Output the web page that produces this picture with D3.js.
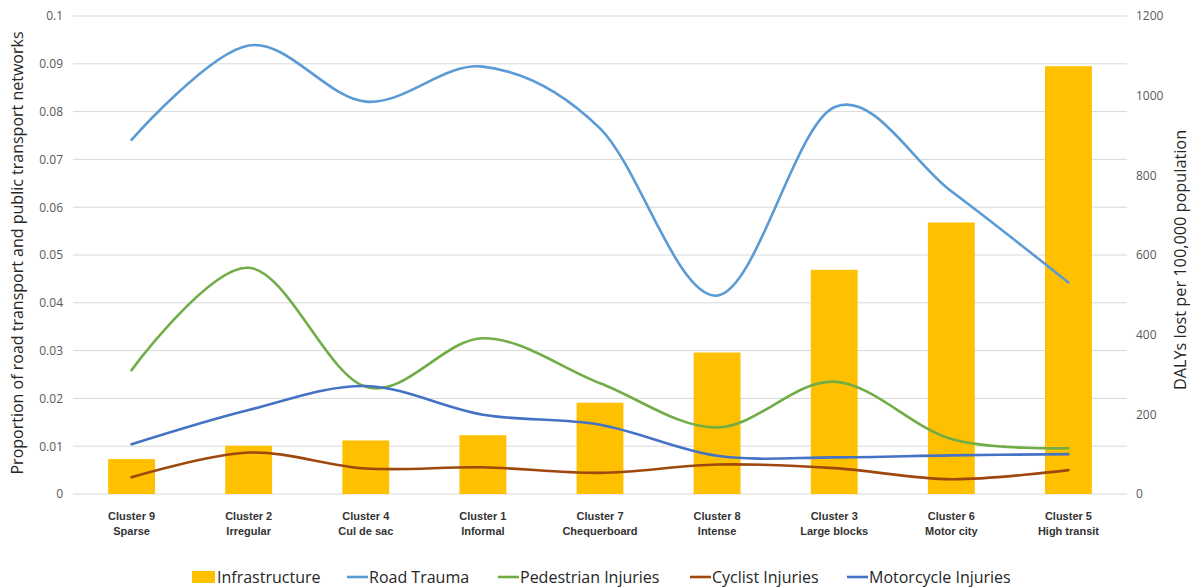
<!DOCTYPE html>
<html>
<head>
<meta charset="utf-8">
<script src="https://cdn.jsdelivr.net/npm/d3@7"></script>
<style>
  html, body { margin: 0; padding: 0; background: #fff; }
  svg { display: block; }
</style>
</head>
<body>
<svg id="chart" width="1193" height="588"></svg>
<script>
// Urban design clusters, ordered as they appear along the x axis
const clusters = ["Cluster 9", "Cluster 2", "Cluster 4", "Cluster 1", "Cluster 7", "Cluster 8", "Cluster 3", "Cluster 6", "Cluster 5"];
const clusterNames = ["Sparse", "Irregular", "Cul de sac", "Informal", "Chequerboard", "Intense", "Large blocks", "Motor city", "High transit"];

// Proportion of road transport and public transport networks (left axis)
const infrastructure = [0.0073, 0.0101, 0.0112, 0.0123, 0.0191, 0.0296, 0.0469, 0.0568, 0.0895];

// DALYs lost per 100,000 population (right axis)
const roadTrauma = [889, 1126, 985, 1073, 918, 498, 971, 760, 531];
const pedestrianInjuries = [311, 568, 269, 391, 278, 167, 282, 138, 115];
const cyclistInjuries = [42, 104, 64, 67, 53, 74, 65, 37, 60];
const motorcycleInjuries = [125, 211, 271, 199, 174, 96, 92, 97, 100];

const leftTicks = [0, 0.01, 0.02, 0.03, 0.04, 0.05, 0.06, 0.07, 0.08, 0.09, 0.1];
const rightTicks = [0, 200, 400, 600, 800, 1000, 1200];

const lineSeries = [
  { name: "Road Trauma", values: roadTrauma, color: "#5b9bd5" },
  { name: "Pedestrian Injuries", values: pedestrianInjuries, color: "#70ad47" },
  { name: "Cyclist Injuries", values: cyclistInjuries, color: "#9e480e" },
  { name: "Motorcycle Injuries", values: motorcycleInjuries, color: "#4472c4" }
];
const barColor = "#ffc000";

const svg = d3.select("#chart");
const plot = { left: 73, right: 1127, top: 16, bottom: 494 };

const x = d3.scaleBand().domain(clusters).range([plot.left, plot.right]).padding(0);
const yLeft = d3.scaleLinear().domain([0, 0.1]).range([plot.bottom, plot.top]);
const yRight = d3.scaleLinear().domain([0, 1200]).range([plot.bottom, plot.top]);

const tickFont = "'Open Sans', 'Liberation Sans', sans-serif";

// Horizontal gridlines on the left-axis ticks
svg.append("g")
  .selectAll("line")
  .data(leftTicks)
  .join("line")
  .attr("x1", plot.left).attr("x2", plot.right)
  .attr("y1", d => yLeft(d)).attr("y2", d => yLeft(d))
  .attr("stroke", "#d9d9d9").attr("stroke-width", 1);

// Left axis
const gLeft = svg.append("g")
  .attr("transform", `translate(${plot.left},0)`)
  .call(d3.axisLeft(yLeft).tickValues(leftTicks).tickSize(0).tickPadding(10).tickFormat(d => String(+d.toFixed(2))));
gLeft.select(".domain").remove();
gLeft.selectAll("text").attr("font-family", tickFont).attr("font-size", 12).attr("fill", "#595959");

// Right axis
const gRight = svg.append("g")
  .attr("transform", `translate(${plot.right},0)`)
  .call(d3.axisRight(yRight).tickValues(rightTicks).tickSize(0).tickPadding(9).tickFormat(d => String(d)));
gRight.select(".domain").remove();
gRight.selectAll("text").attr("font-family", tickFont).attr("font-size", 12).attr("fill", "#595959");

// Infrastructure bars
const barW = x.bandwidth() * 0.4;
svg.append("g")
  .selectAll("rect")
  .data(infrastructure)
  .join("rect")
  .attr("x", (d, i) => x(clusters[i]) + (x.bandwidth() - barW) / 2)
  .attr("width", barW)
  .attr("y", d => yLeft(d))
  .attr("height", d => yLeft(0) - yLeft(d))
  .attr("fill", barColor);

// Smoothed injury / trauma lines
const line = d3.line()
  .x((d, i) => x(clusters[i]) + x.bandwidth() / 2)
  .y(d => yRight(d))
  .curve(d3.curveCardinal.tension(0));

svg.append("g")
  .selectAll("path")
  .data(lineSeries)
  .join("path")
  .attr("d", s => line(s.values))
  .attr("fill", "none")
  .attr("stroke", s => s.color)
  .attr("stroke-width", 2.6)
  .attr("stroke-linecap", "round");

// Category labels (two lines)
const xLabels = svg.append("g")
  .selectAll("text")
  .data(clusters)
  .join("text")
  .attr("x", d => x(d) + x.bandwidth() / 2)
  .attr("text-anchor", "middle")
  .attr("font-family", "'Liberation Sans', Arial, sans-serif")
  .attr("font-weight", "bold")
  .attr("font-size", 11)
  .attr("fill", "#333");
xLabels.append("tspan").attr("x", d => x(d) + x.bandwidth() / 2).attr("y", 520).text(d => d);
xLabels.append("tspan").attr("x", d => x(d) + x.bandwidth() / 2).attr("y", 535).text((d, i) => clusterNames[i]);

// Axis titles
svg.append("text")
  .attr("transform", "translate(23,253) rotate(-90)")
  .attr("text-anchor", "middle")
  .attr("font-family", tickFont)
  .attr("font-size", 16)
  .attr("fill", "#262626")
  .text("Proportion of road transport and public transport networks");

svg.append("text")
  .attr("transform", "translate(1186,260) rotate(-90)")
  .attr("text-anchor", "middle")
  .attr("font-family", tickFont)
  .attr("font-size", 16.3)
  .attr("fill", "#262626")
  .text("DALYs lost per 100,000 population");

// Legend
const legendItems = [{ name: "Infrastructure", color: barColor, bar: true }]
  .concat(lineSeries.map(s => ({ name: s.name, color: s.color, bar: false })));
const legendX = [192, 347, 498, 690, 847];
const legendY = 577;
const lg = svg.append("g");
legendItems.forEach((item, i) => {
  const g = lg.append("g").attr("transform", `translate(${legendX[i]},${legendY})`);
  if (item.bar) {
    g.append("rect").attr("x", 0).attr("y", -6).attr("width", 23).attr("height", 12).attr("fill", item.color);
    g.append("text").attr("x", 25).attr("y", 0).attr("dy", "0.35em")
      .attr("font-family", tickFont).attr("font-size", 16).attr("fill", "#262626").text(item.name);
  } else {
    g.append("line").attr("x1", 0).attr("x2", 21).attr("y1", 0).attr("y2", 0)
      .attr("stroke", item.color).attr("stroke-width", 2.6);
    g.append("text").attr("x", 22).attr("y", 0).attr("dy", "0.35em")
      .attr("font-family", tickFont).attr("font-size", 16).attr("fill", "#262626").text(item.name);
  }
});
</script>
</body>
</html>
